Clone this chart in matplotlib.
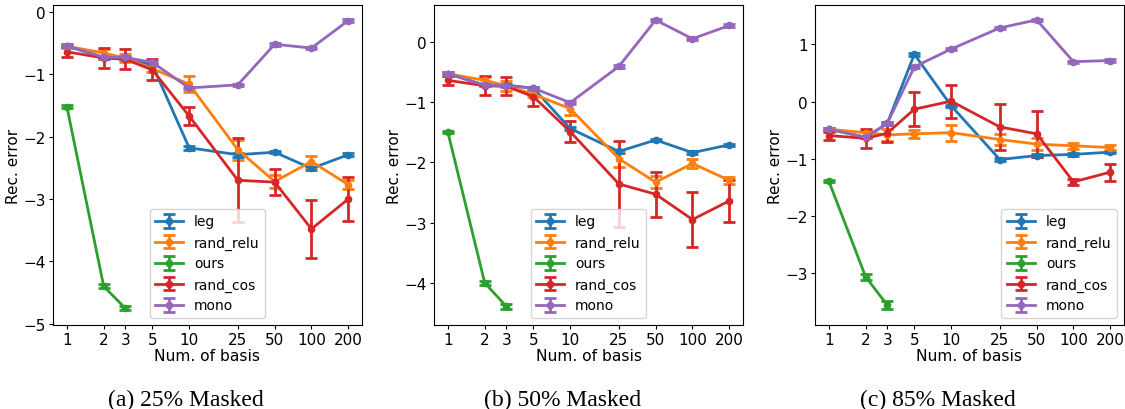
import matplotlib
matplotlib.use("Agg")
import matplotlib.pyplot as plt
from matplotlib.ticker import NullLocator, FixedLocator, FixedFormatter

# Number of basis functions on the x axis
num_basis = [1, 2, 3, 5, 10, 25, 50, 100, 200]
num_basis_ours = [1, 2, 3]
tick_labels = ["1", "2", "3", "5", "10", "25", "50", "100", "200"]
method_names = ["leg", "rand_relu", "ours", "rand_cos", "mono"]
captions = ["(a) 25% Masked", "(b) 50% Masked", "(c) 85% Masked"]

# ---- 25% masked ----
leg_25 = [-0.55, -0.73, -0.75, -0.85, -2.18, -2.29, -2.25, -2.51, -2.29]
leg_25_err = [0.02, 0.02, 0.02, 0.02, 0.03, 0.03, 0.02, 0.03, 0.02]
relu_25 = [-0.55, -0.66, -0.74, -0.91, -1.16, -2.21, -2.72, -2.40, -2.77]
relu_25_err = [0.03, 0.06, 0.06, 0.05, 0.13, 0.16, 0.10, 0.09, 0.07]
ours_25 = [-1.52, -4.40, -4.75]
ours_25_err = [0.02, 0.03, 0.03]
cos_25 = [-0.64, -0.74, -0.76, -0.93, -1.67, -2.70, -2.73, -3.48, -3.00]
cos_25_err = [0.08, 0.16, 0.16, 0.17, 0.14, 0.67, 0.21, 0.47, 0.36]
mono_25 = [-0.54, -0.73, -0.73, -0.81, -1.22, -1.17, -0.52, -0.58, -0.14]
mono_25_err = [0.02, 0.02, 0.02, 0.02, 0.02, 0.02, 0.02, 0.02, 0.02]

# ---- 50% masked ----
leg_50 = [-0.53, -0.72, -0.72, -0.77, -1.44, -1.82, -1.63, -1.84, -1.71]
leg_50_err = [0.02, 0.02, 0.02, 0.02, 0.03, 0.03, 0.02, 0.02, 0.02]
relu_50 = [-0.53, -0.64, -0.73, -0.87, -1.11, -1.94, -2.33, -2.02, -2.30]
relu_50_err = [0.03, 0.06, 0.08, 0.05, 0.11, 0.13, 0.10, 0.07, 0.06]
ours_50 = [-1.50, -4.00, -4.39]
ours_50_err = [0.02, 0.03, 0.04]
cos_50 = [-0.64, -0.73, -0.74, -0.91, -1.49, -2.36, -2.53, -2.95, -2.64]
cos_50_err = [0.08, 0.16, 0.15, 0.16, 0.17, 0.72, 0.37, 0.45, 0.35]
mono_50 = [-0.53, -0.72, -0.73, -0.77, -1.01, -0.41, 0.36, 0.05, 0.27]
mono_50_err = [0.02, 0.02, 0.02, 0.02, 0.02, 0.02, 0.02, 0.02, 0.02]

# ---- 85% masked ----
leg_85 = [-0.48, -0.62, -0.38, 0.83, -0.07, -1.01, -0.94, -0.92, -0.88]
leg_85_err = [0.02, 0.02, 0.02, 0.03, 0.02, 0.02, 0.02, 0.02, 0.02]
relu_85 = [-0.48, -0.54, -0.58, -0.56, -0.54, -0.66, -0.74, -0.77, -0.80]
relu_85_err = [0.03, 0.05, 0.10, 0.07, 0.14, 0.10, 0.10, 0.05, 0.04]
ours_85 = [-1.39, -3.06, -3.55]
ours_85_err = [0.02, 0.05, 0.07]
cos_85 = [-0.59, -0.64, -0.55, -0.13, 0.01, -0.44, -0.56, -1.40, -1.23]
cos_85_err = [0.07, 0.16, 0.15, 0.30, 0.29, 0.40, 0.40, 0.05, 0.15]
mono_85 = [-0.48, -0.62, -0.38, 0.61, 0.92, 1.29, 1.43, 0.70, 0.72]
mono_85_err = [0.02, 0.02, 0.02, 0.02, 0.02, 0.02, 0.02, 0.02, 0.02]

panels = [
    (leg_25, leg_25_err, relu_25, relu_25_err, ours_25, ours_25_err,
     cos_25, cos_25_err, mono_25, mono_25_err),
    (leg_50, leg_50_err, relu_50, relu_50_err, ours_50, ours_50_err,
     cos_50, cos_50_err, mono_50, mono_50_err),
    (leg_85, leg_85_err, relu_85, relu_85_err, ours_85, ours_85_err,
     cos_85, cos_85_err, mono_85, mono_85_err),
]

colors = ["#1f77b4", "#ff7f0e", "#2ca02c", "#d62728", "#9467bd"]
ylims = [(-5.02, 0.11), (-4.70, 0.61), (-3.90, 1.69)]
legend_locs = ["lower center", "lower center", "lower right"]

W, H = 1125, 410
fig = plt.figure(figsize=(W / 100, H / 100), dpi=100)
plt.rcParams["font.family"] = ["DejaVu Sans"]

lefts = [53, 434, 815]
ax_w, ax_top, ax_bot = 309, 6, 326
caption_x = [186, 563, 938]

for i, data in enumerate(panels):
    ax = fig.add_axes([lefts[i] / W, (H - ax_bot) / H, ax_w / W, (ax_bot - ax_top) / H])
    (leg, leg_e, relu, relu_e, ours, ours_e, cos_, cos_e, mono, mono_e) = data
    series = [
        (num_basis, leg, leg_e),
        (num_basis, relu, relu_e),
        (num_basis_ours, ours, ours_e),
        (num_basis, cos_, cos_e),
        (num_basis, mono, mono_e),
    ]
    for (xs, ys, es), name, c in zip(series, method_names, colors):
        ax.errorbar(xs, ys, yerr=es, color=c, label=name, marker="o",
                    markersize=4.5, linewidth=2, elinewidth=2,
                    capsize=4, capthick=2)
    ax.set_xscale("log")
    ax.set_xlim(0.77, 259)
    ax.xaxis.set_major_locator(FixedLocator(num_basis))
    ax.xaxis.set_major_formatter(FixedFormatter(tick_labels))
    ax.xaxis.set_minor_locator(NullLocator())
    ax.set_ylim(*ylims[i])
    ax.tick_params(labelsize=11, length=3, pad=2)
    ax.set_xlabel("Num. of basis", fontsize=11.2, labelpad=1)
    ax.set_ylabel("Rec. error", fontsize=11, labelpad=1.5)
    ax.legend(loc=legend_locs[i], fontsize=10)
    fig.text(caption_x[i] / W, 1 - 400 / H, captions[i], ha="center",
             va="center", fontsize=17, family="Liberation Serif")

fig.savefig("out.png", dpi=100)
